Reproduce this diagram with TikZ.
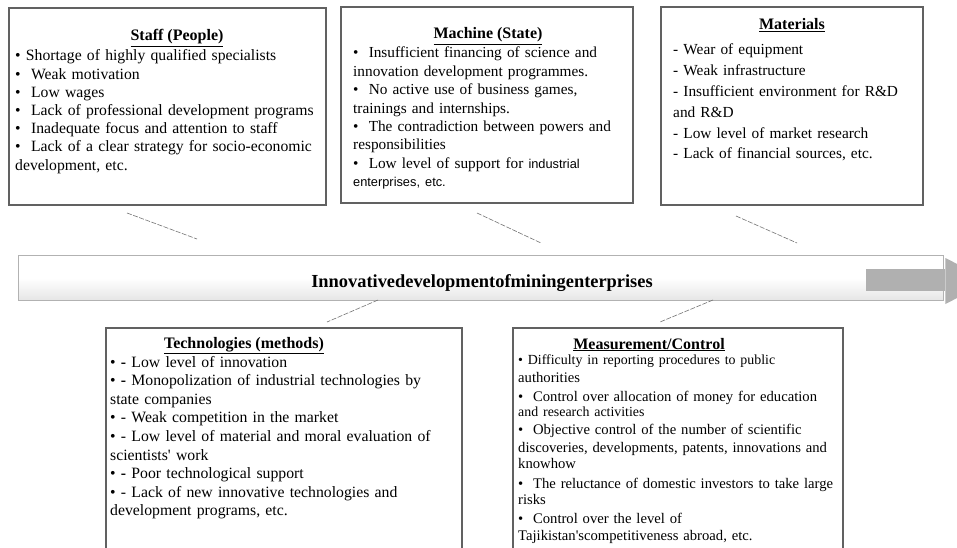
\documentclass[tikz,border=0pt]{standalone}
\usepackage{fontspec}
\setmainfont{Liberation Serif}
\newfontfamily\plainsans{Liberation Sans}
\begin{document}
\begin{tikzpicture}[x=1pt,y=-1pt,
  causebox/.style={draw=black!62, line width=1.6pt, anchor=north west, inner sep=0pt, outer sep=0pt},
  causelist/.style={anchor=base west, inner sep=0pt, text width=370pt, align=left},
  heading/.style={anchor=base, inner sep=0pt, font=\fontsize{16}{18}\selectfont\bfseries},
  feeder/.style={draw=black!55, line width=0.6pt, dash pattern=on 5pt off 1.5pt},
  spine/.style={draw=black!30, line width=0.8pt, anchor=north west, inner sep=0pt,
    top color=white, bottom color=black!10, middle color=white},
  spinearrow/.style={fill=black!31, draw=none},
]
\clip (0,0) rectangle (957,548);
\fill[white] (0,0) rectangle (957,548);

% ---------- cause boxes ----------
\node[causebox, minimum width=317pt, minimum height=197pt] (staff) at (9,8) {};
\node[causebox, minimum width=292pt, minimum height=196pt] (machine) at (341,7) {};
\node[causebox, minimum width=262pt, minimum height=198pt] (materials) at (661,7) {};
\node[causebox, minimum width=356pt, minimum height=240pt] (tech) at (106,328) {};
\node[causebox, minimum width=330pt, minimum height=240pt] (measure) at (513,328) {};

% ---------- headings ----------
\node[heading] (staffhead) at (177,41) {\underline{Staff (People)}};
\node[heading] (machinehead) at (488,39) {\underline{Machine (State)}};
\node[heading] (materialshead) at (792,30) {\underline{Materials}};
\node[heading] (techhead) at (244,348) {\underline{Technologies (methods)}};
\node[heading] (measurehead) at (649,349) {\underline{Measurement/Control}};

% ---------- lists ----------
\node[causelist, font=\fontsize{15.7}{18.2}\selectfont] (stafftext) at (15,61) {%
• Shortage of highly qualified specialists\\
•\ \ Weak motivation\\
•\ \ Low wages\\
•\ \ Lack of professional development programs\\
•\ \ Inadequate focus and attention to staff\\
•\ \ Lack of a clear strategy for socio-economic\\
development, etc.};

\node[causelist, font=\fontsize{15.3}{18.4}\selectfont] (machinetext) at (353,58) {%
•\ \ Insufficient financing of science and\\
innovation development programmes.\\
•\ \ No active use of business games,\\
trainings and internships.\\
•\ \ The contradiction between powers and\\
responsibilities\\
•\ \ Low level of support for {\plainsans\fontsize{12.8}{18.4}\selectfont industrial}\\
{\plainsans\fontsize{12.8}{18.4}\selectfont enterprises, etc.}};

\node[causelist, font=\fontsize{15.35}{20.8}\selectfont] (materialstext) at (673,55) {%
- Wear of equipment\\
- Weak infrastructure\\
- Insufficient environment for R\&D\\
and R\&D\\
- Low level of market research\\
- Lack of financial sources, etc.};

\node[causelist, font=\fontsize{15.75}{18.6}\selectfont] (techtext) at (110,367) {%
• \textbf{-} Low level of innovation\\
• \textbf{-} Monopolization of industrial technologies by\\
state companies\\
• - Weak competition in the market\\
• - Low level of material and moral evaluation of\\
scientists\textquotesingle\ work\\
• \textbf{-} Poor technological support\\
• - Lack of new innovative technologies and\\
development programs, etc.};

\node[causelist, font=\fontsize{14.65}{17.6}\selectfont] (measuretext) at (518,364) {%
{\fontsize{13.9}{17.6}\selectfont • Difficulty in reporting procedures to public}\\[1.3pt]
authorities\\[0.6pt]
•\ \ Control over allocation of money for education\\[-2.4pt]
{\fontsize{13.9}{17.6}\selectfont and research activities}\\[0.8pt]
•\ \ Objective control of the number of scientific\\[0.4pt]
discoveries, developments, patents, innovations and\\[-1.4pt]
knowhow\\[1.6pt]
•\ \ The reluctance of domestic investors to take large\\[-1.2pt]
risks\\[1.4pt]
•\ \ Control over the level of\\[-0.4pt]
Tajikistan\textquotesingle scompetitiveness abroad, etc.};

% ---------- spine ----------
\node[spine, minimum width=925pt, minimum height=45pt] (spine) at (18,255) {};
\node[spinearrow, anchor=north west, inner sep=0pt, minimum width=79pt, minimum height=22pt] (arrowbody) at (866,269) {};
\fill[spinearrow] (arrowbody.north east) ++(0,-11) -- ++(45,23) -- ++(-45,23) -- cycle;
\node[anchor=base, inner sep=0pt, font=\fontsize{18.4}{20}\selectfont\bfseries] (spinelabel) at (482,287)
  {Innovativedevelopmentofminingenterprises};

% ---------- feeder lines ----------
\coordinate (f1a) at (127,213); \coordinate (f1b) at (197,239);
\coordinate (f2a) at (477,213); \coordinate (f2b) at (541,243);
\coordinate (f3a) at (736,216); \coordinate (f3b) at (797,243);
\coordinate (f4a) at (378,300); \coordinate (f4b) at (327,322);
\coordinate (f5a) at (713,300); \coordinate (f5b) at (660,322);
\draw[feeder] (f1a) -- (f1b);
\draw[feeder] (f2a) -- (f2b);
\draw[feeder] (f3a) -- (f3b);
\draw[feeder] (f4a) -- (f4b);
\draw[feeder] (f5a) -- (f5b);
\end{tikzpicture}
\end{document}
